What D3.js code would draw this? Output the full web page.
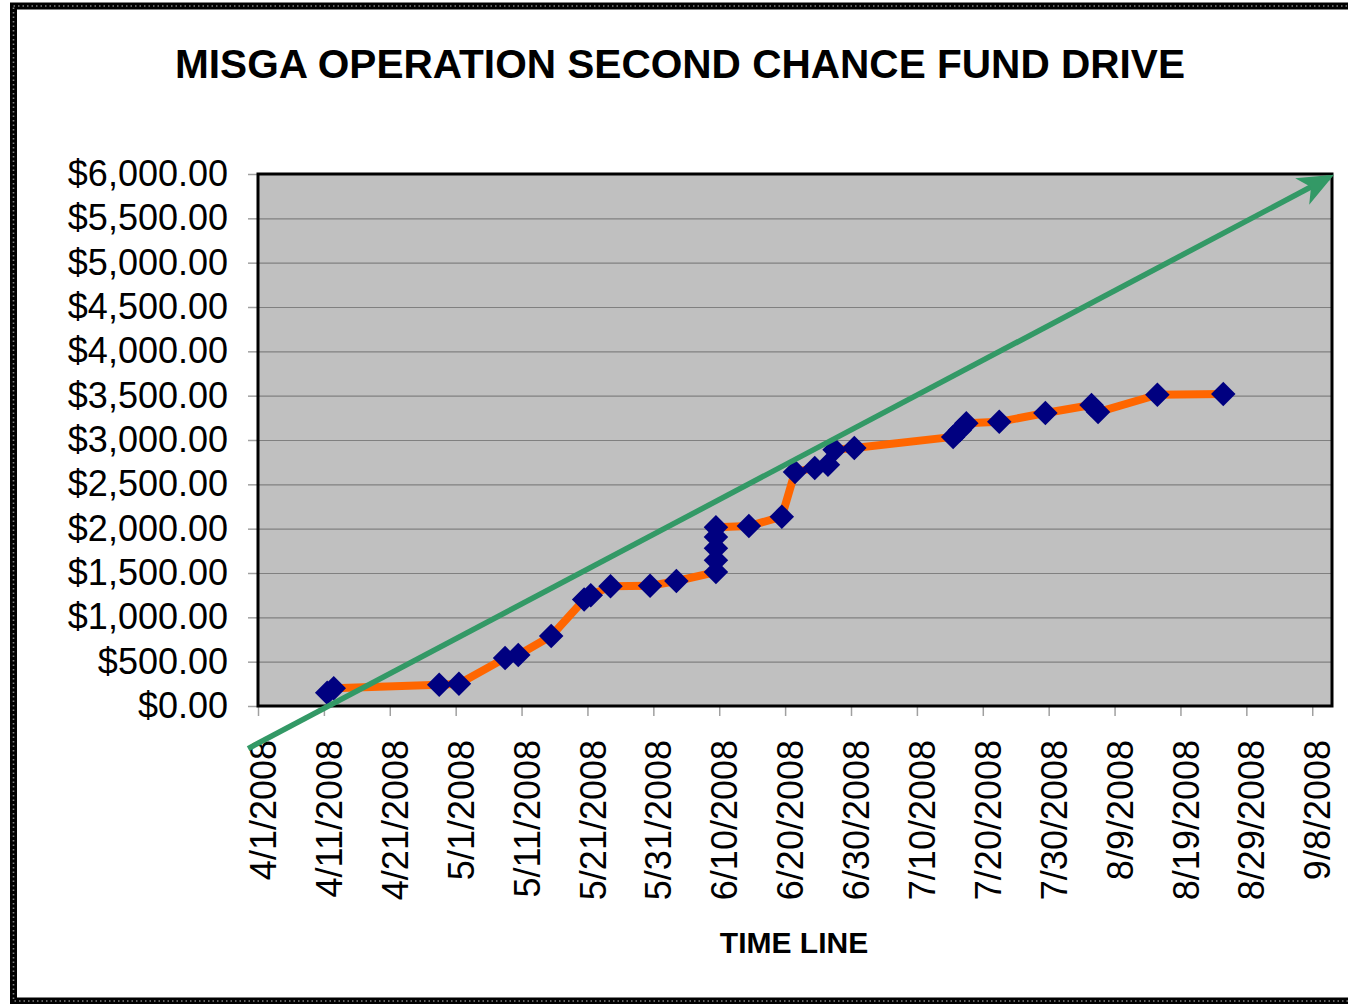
<!DOCTYPE html>
<html>
<head>
<meta charset="utf-8">
<script src="https://cdn.jsdelivr.net/npm/d3@7"></script>
<style>
  html, body { margin: 0; padding: 0; background: #fff; }
  svg { display: block; font-family: "Liberation Sans", Arial, sans-serif; }
</style>
</head>
<body>
<div id="chart"></div>
<script>
// donation dates and running totals
const donationDates = [
  "4/11/2008", "4/12/2008", "4/28/2008", "5/1/2008", "5/8/2008", "5/10/2008",
  "5/15/2008", "5/20/2008", "5/21/2008", "5/24/2008", "5/30/2008", "6/3/2008",
  "6/9/2008", "6/9/2008", "6/9/2008", "6/9/2008", "6/9/2008",
  "6/14/2008", "6/19/2008", "6/21/2008", "6/24/2008", "6/26/2008", "6/27/2008",
  "6/30/2008", "7/15/2008", "7/16/2008", "7/17/2008", "7/22/2008", "7/29/2008",
  "8/5/2008", "8/6/2008", "8/15/2008", "8/25/2008"
];
const runningTotals = [
  150, 200, 240, 250, 540, 575,
  790, 1200, 1250, 1350, 1355, 1410,
  1510, 1645, 1780, 1905, 2015,
  2030, 2135, 2640, 2685, 2720,
  2890, 2910, 3035, 3110, 3190, 3205, 3305,
  3395, 3315, 3510, 3520
];

// goal arrow endpoints
const goalDates = ["3/30/2008", "9/10/2008"];
const goalValues = [-480, 5960];

const xTickLabels = [
  "4/1/2008", "4/11/2008", "4/21/2008", "5/1/2008", "5/11/2008", "5/21/2008",
  "5/31/2008", "6/10/2008", "6/20/2008", "6/30/2008", "7/10/2008", "7/20/2008",
  "7/30/2008", "8/9/2008", "8/19/2008", "8/29/2008", "9/8/2008"
];
const yTickValues = [0, 500, 1000, 1500, 2000, 2500, 3000, 3500, 4000, 4500, 5000, 5500, 6000];
const xDomain = ["4/1/2008", "9/11/2008"];

const W = 1348, H = 1004;
const margin = {top: 174, right: 16, bottom: 298, left: 258};
const width = 1332 - margin.left;
const height = 706 - margin.top;

const parse = d3.utcParse("%m/%d/%Y");
const fmtDate = d3.utcFormat("%-m/%-d/%Y");
// Excel puts each point in the middle of its day slot
const mid = d => d3.utcHour.offset(parse(d), 12);

const points = donationDates.map((d, i) => ({date: mid(d), value: runningTotals[i]}));
const goal = goalDates.map((d, i) => ({date: mid(d), value: goalValues[i]}));

const x = d3.scaleUtc().domain(xDomain.map(parse)).range([0, width]);
const y = d3.scaleLinear().domain([0, 6000]).range([height, 0]);

const svg = d3.select("#chart").append("svg")
  .attr("width", W).attr("height", H);

// rope-like frame
svg.append("rect")
  .attr("x", 13.5).attr("y", 6).attr("width", 1342).attr("height", 995)
  .attr("fill", "none").attr("stroke", "#000").attr("stroke-width", 7);
svg.append("rect")
  .attr("x", 13.5).attr("y", 6).attr("width", 1342).attr("height", 995)
  .attr("fill", "none").attr("stroke", "#fff").attr("stroke-opacity", 0.5)
  .attr("stroke-width", 1.6).attr("stroke-dasharray", "1.5 3");

svg.append("text")
  .attr("x", 680).attr("y", 78)
  .attr("text-anchor", "middle")
  .attr("font-size", 40.6).attr("font-weight", "bold")
  .text("MISGA OPERATION SECOND CHANCE FUND DRIVE");

const g = svg.append("g")
  .attr("transform", "translate(" + margin.left + "," + margin.top + ")");

g.append("rect")
  .attr("width", width).attr("height", height)
  .attr("fill", "#c0c0c0");

// gridlines
g.append("g")
  .call(d3.axisLeft(y).tickValues(yTickValues.slice(1)).tickSize(-width).tickFormat(""))
  .call(s => s.select(".domain").remove())
  .call(s => s.selectAll("line").attr("stroke", "#808080").attr("stroke-width", 1.2));

// y axis
g.append("g")
  .call(d3.axisLeft(y).tickValues(yTickValues).tickSize(10).tickPadding(20)
    .tickFormat(d3.format("$,.2f")))
  .call(s => s.select(".domain").remove())
  .call(s => s.selectAll("line").attr("stroke", "#a0a0a0").attr("stroke-width", 1.5))
  .call(s => s.selectAll("text")
    .attr("font-family", "Liberation Sans, Arial, sans-serif")
    .attr("font-size", 36).attr("fill", "#000"));

// x axis
g.append("g")
  .attr("transform", "translate(0," + height + ")")
  .call(d3.axisBottom(x).tickValues(xTickLabels.map(parse)).tickSize(10)
    .tickFormat(fmtDate))
  .call(s => s.select(".domain").remove())
  .call(s => s.selectAll("line").attr("stroke", "#a0a0a0").attr("stroke-width", 1.5))
  .call(s => s.selectAll("text")
    .attr("font-family", "Liberation Sans, Arial, sans-serif")
    .attr("font-size", 36).attr("fill", "#000")
    .attr("text-anchor", "end")
    .attr("transform", "rotate(-90)")
    .attr("x", -34).attr("y", 5).attr("dy", "0.35em"));

// plot border
g.append("rect")
  .attr("width", width).attr("height", height)
  .attr("fill", "none").attr("stroke", "#000").attr("stroke-width", 3);

// running total line
const line = d3.line().x(d => x(d.date)).y(d => y(d.value));
g.append("path")
  .datum(points)
  .attr("d", line)
  .attr("fill", "none")
  .attr("stroke", "#ff6600")
  .attr("stroke-width", 8)
  .attr("stroke-linejoin", "round");

g.selectAll(".pt")
  .data(points)
  .join("path")
  .attr("class", "pt")
  .attr("d", d3.symbol(d3.symbolSquare, 300))
  .attr("transform", d => "translate(" + x(d.date) + "," + y(d.value) + ") rotate(45)")
  .attr("fill", "#000080");

// goal arrow
svg.append("defs").append("marker")
  .attr("id", "arrow")
  .attr("viewBox", "0 0 36 30")
  .attr("refX", 30).attr("refY", 15)
  .attr("markerWidth", 36).attr("markerHeight", 30)
  .attr("markerUnits", "userSpaceOnUse")
  .attr("orient", "auto")
  .append("path")
  .attr("d", "M0,0 L36,15 L0,30 L10,15 Z")
  .attr("fill", "#339966");

g.append("path")
  .datum(goal)
  .attr("d", line)
  .attr("fill", "none")
  .attr("stroke", "#339966")
  .attr("stroke-width", 5.5)
  .attr("marker-end", "url(#arrow)");

svg.append("text")
  .attr("x", 794).attr("y", 953)
  .attr("text-anchor", "middle")
  .attr("font-size", 30).attr("font-weight", "bold")
  .text("TIME LINE");
</script>
</body>
</html>
